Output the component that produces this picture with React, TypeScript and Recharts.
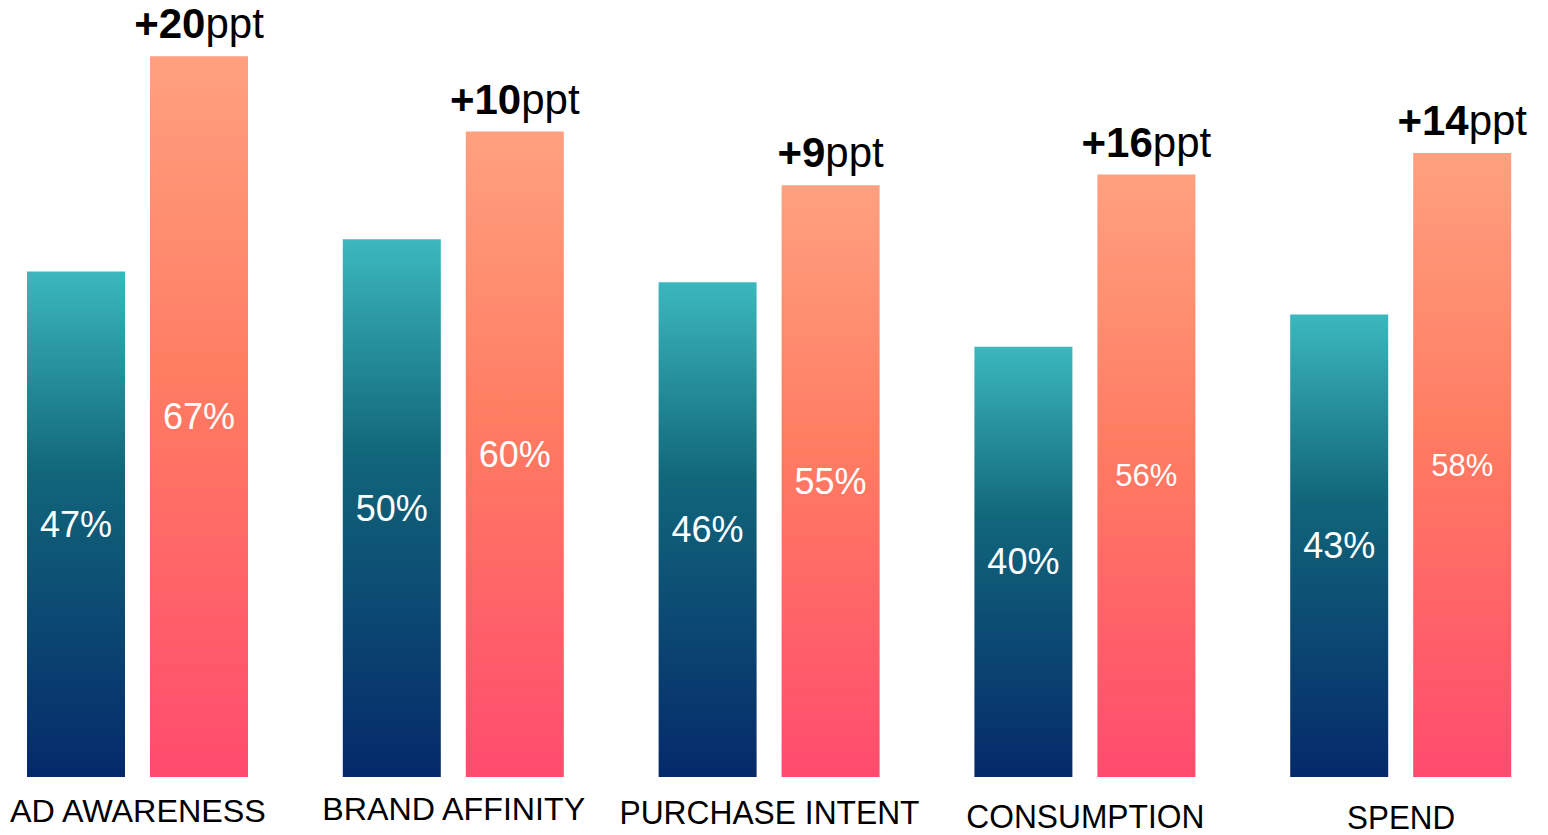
import { BarChart, Bar, XAxis, YAxis, LabelList } from 'recharts';

const categories = ['AD AWARENESS', 'BRAND AFFINITY', 'PURCHASE INTENT', 'CONSUMPTION', 'SPEND'];
const before = [47, 50, 46, 40, 43];
const after = [67, 60, 55, 56, 58];
const uplift = [20, 10, 9, 16, 14];

// label look, per category (the source slide has hand-tuned text boxes)
const tickLook = [
  { size: 31, width: 256, dy: 45 },
  { size: 31, width: 263, dy: 43 },
  { size: 33, width: 300, dy: 47 },
  { size: 34, width: 238, dy: 51 },
  { size: 34, width: 108, dy: 52 },
];
const beforeLabelSize = [36, 36, 36, 36, 36];
const afterLabelSize = [36, 36, 36, 31, 31];

const data = categories.map((name, i) => ({
  name,
  before: before[i],
  after: after[i],
}));

const FONT = '"Liberation Sans", Arial, sans-serif';

const CategoryTick = (props: any) => {
  const { x, y, payload, index } = props;
  const look = tickLook[index] || tickLook[0];
  return (
    <text
      x={x}
      y={y + look.dy}
      textAnchor="middle"
      fontSize={look.size}
      fontFamily={FONT}
      fill="#000"
      textLength={look.width}
      lengthAdjust="spacingAndGlyphs"
    >
      {payload.value}
    </text>
  );
};

const valueLabel = (sizes: number[]) => (props: any) => {
  const { x, y, width, height, value, index } = props;
  return (
    <text
      x={x + width / 2}
      y={y + height / 2}
      textAnchor="middle"
      dominantBaseline="central"
      fontSize={sizes[index]}
      fontFamily={FONT}
      fill="#fff"
    >
      {value}%
    </text>
  );
};

const UpliftLabel = (props: any) => {
  const { x, y, width, index } = props;
  return (
    <text x={x + width / 2} y={y - 18} textAnchor="middle" fontSize={42} fontFamily={FONT} fill="#000">
      <tspan fontWeight="bold">+{uplift[index]}</tspan>
      <tspan>ppt</tspan>
    </text>
  );
};

export default function App() {
  return (
    <div style={{ position: 'absolute', left: 0, top: 0, width: 1548, height: 835, overflow: 'hidden', background: '#fff' }}>
      <BarChart
        width={1579}
        height={835}
        data={data}
        margin={{ top: 24, right: 0, bottom: 0, left: 0 }}
        barSize={98}
        barGap={25}
        style={{ position: 'absolute', left: -20, top: 0 }}
      >
        <defs>
          <linearGradient id="tealGrad" x1="0" y1="0" x2="0" y2="1">
            <stop offset="0%" stopColor="#3bb8bd" />
            <stop offset="40%" stopColor="#11667a" />
            <stop offset="100%" stopColor="#05296a" />
          </linearGradient>
          <linearGradient id="coralGrad" x1="0" y1="0" x2="0" y2="1">
            <stop offset="0%" stopColor="#ffa07f" />
            <stop offset="45%" stopColor="#ff7c61" />
            <stop offset="100%" stopColor="#ff4b6e" />
          </linearGradient>
        </defs>
        <XAxis
          dataKey="name"
          axisLine={false}
          tickLine={false}
          tickSize={0}
          tickMargin={0}
          height={58}
          interval={0}
          tick={<CategoryTick />}
        />
        <YAxis hide domain={[0, 70]} />
        <Bar dataKey="before" fill="url(#tealGrad)" isAnimationActive={false}>
          <LabelList dataKey="before" content={valueLabel(beforeLabelSize)} />
        </Bar>
        <Bar dataKey="after" fill="url(#coralGrad)" isAnimationActive={false}>
          <LabelList dataKey="after" content={valueLabel(afterLabelSize)} />
          <LabelList dataKey="after" content={<UpliftLabel />} />
        </Bar>
      </BarChart>
    </div>
  );
}
